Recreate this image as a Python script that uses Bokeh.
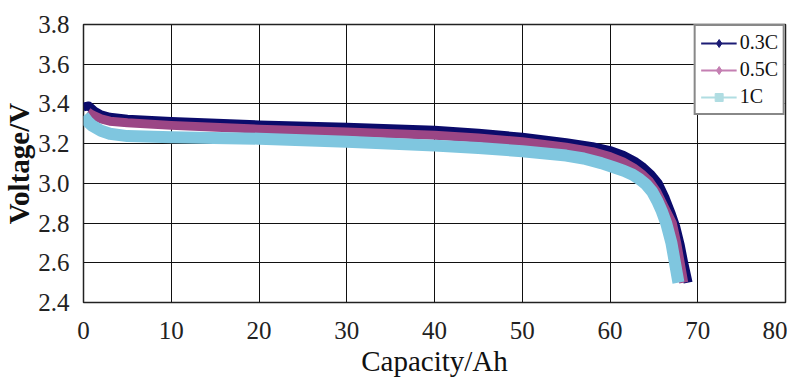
from bokeh.plotting import figure
from bokeh.models import (ColumnDataSource, Legend, LegendItem, FixedTicker,
                          PrintfTickFormatter, Range1d)
from bokeh.embed import file_html
from bokeh.resources import INLINE

# ---- data ----
series_labels = ["0.3C", "0.5C", "1C"]

cap_03 = [0, 0.6, 1.2, 2.0, 3.0, 5, 10, 20, 30, 40, 45, 50, 55, 58, 60, 61.5,
          62.8, 63.8, 64.7, 65.5, 66.3, 67.0, 67.5, 68.0, 68.4, 68.9]
volt_03 = [3.385, 3.39, 3.365, 3.345, 3.333, 3.323, 3.312, 3.294, 3.282, 3.268,
           3.253, 3.232, 3.205, 3.185, 3.165, 3.142, 3.112, 3.08, 3.043, 3.0,
           2.925, 2.845, 2.78, 2.69, 2.60, 2.50]

cap_05 = [0.5, 1.0, 2.0, 3.0, 5, 10, 20, 30, 40, 45, 50, 55, 58, 60, 61.5,
          62.7, 63.6, 64.5, 65.3, 66.2, 67.1, 67.6, 68.0, 68.4]
volt_05 = [3.36, 3.345, 3.325, 3.313, 3.305, 3.292, 3.273, 3.259, 3.242, 3.228,
           3.21, 3.182, 3.16, 3.135, 3.108, 3.078, 3.048, 3.01, 2.96, 2.88,
           2.80, 2.70, 2.60, 2.50]

cap_1c = [0, 0.5, 1.0, 2.0, 3.0, 5, 10, 20, 30, 40, 45, 50, 55, 57, 59, 60.5,
          61.6, 62.6, 63.4, 64.1, 64.8, 65.4, 65.9, 66.4, 67.0, 67.4, 67.8]
volt_1c = [3.34, 3.31, 3.29, 3.265, 3.25, 3.238, 3.232, 3.225, 3.21, 3.19,
           3.178, 3.162, 3.14, 3.125, 3.102, 3.08, 3.063, 3.043, 3.02, 2.995,
           2.958, 2.91, 2.86, 2.80, 2.70, 2.60, 2.50]

x_ticks = [0, 10, 20, 30, 40, 50, 60, 70, 80]
y_ticks = [2.4, 2.6, 2.8, 3.0, 3.2, 3.4, 3.6, 3.8]
x_min, x_max = 0, 80
y_min, y_max = 2.4, 3.8

FONT = "Liberation Serif"

p = figure(width=787, height=381, output_backend="svg", toolbar_location=None,
           x_range=Range1d(x_min, x_max), y_range=Range1d(y_min, y_max),
           min_border_left=83, min_border_right=2, min_border_top=24,
           min_border_bottom=79)
p.background_fill_color = "white"
p.border_fill_color = "white"
p.outline_line_color = "#222222"
p.outline_line_width = 1.5

# axes
p.xaxis.ticker = FixedTicker(ticks=x_ticks)
p.yaxis.ticker = FixedTicker(ticks=y_ticks)
p.yaxis.formatter = PrintfTickFormatter(format="%.1f")
for ax in (p.xaxis[0], p.yaxis[0]):
    ax.axis_line_color = None
    ax.major_tick_line_color = None
    ax.minor_tick_line_color = None
    ax.major_label_text_font = FONT
    ax.major_label_text_font_size = "25px"
    ax.major_label_text_color = "#222222"
    ax.axis_label_text_font = FONT
    ax.axis_label_text_color = "#111111"
    ax.axis_label_text_font_style = "normal"
p.xaxis.axis_label = "Capacity/Ah"
p.yaxis.axis_label = "Voltage/V"
p.xaxis.axis_label_text_font_size = "29px"
p.yaxis.axis_label_text_font_style = "bold"
p.yaxis.axis_label_text_font_size = "29px"
p.xaxis.major_label_standoff = 13
p.yaxis.major_label_standoff = 8
p.xaxis.axis_label_standoff = 3
p.yaxis.axis_label_standoff = 0

# grid
p.xgrid.ticker = FixedTicker(ticks=x_ticks)
p.ygrid.ticker = FixedTicker(ticks=y_ticks)
for g in (p.xgrid[0], p.ygrid[0]):
    g.grid_line_color = "#111111"
    g.grid_line_width = 1
    g.grid_line_alpha = 1.0

# curves (thick bands)
p.line(cap_03, volt_03, line_color="#0b0b6b", line_width=9,
       line_join="round", line_cap="butt")
p.line(cap_05, volt_05, line_color="#9b4685", line_width=9,
       line_join="round", line_cap="butt")
p.line(cap_1c, volt_1c, line_color="#7fc6df", line_width=12,
       line_join="round", line_cap="butt")

# legend-only glyphs (a single point placed outside the visible range)
def proxy():
    return ColumnDataSource(data=dict(x=[x_min - 10], y=[y_min - 1]))

l1 = p.line("x", "y", source=proxy(), line_color="#1c1c75", line_width=2)
m1 = p.scatter("x", "y", source=proxy(), marker="diamond", size=11,
               fill_color="#1c1c75", line_color="#1c1c75")
l2 = p.line("x", "y", source=proxy(), line_color="#c47fb2", line_width=2)
m2 = p.scatter("x", "y", source=proxy(), marker="diamond", size=11,
               fill_color="#c47fb2", line_color="#c47fb2")
l3 = p.line("x", "y", source=proxy(), line_color="#b0dde2", line_width=2)
m3 = p.scatter("x", "y", source=proxy(), marker="square", size=10,
               fill_color="#b0dde2", line_color="#b0dde2")

legend = Legend(items=[
    LegendItem(label=series_labels[0], renderers=[l1, m1]),
    LegendItem(label=series_labels[1], renderers=[l2, m2]),
    LegendItem(label=series_labels[2], renderers=[l3, m3]),
], location="top_right")
legend.margin = 0
legend.padding = 5
legend.spacing = 4
legend.glyph_width = 36
legend.glyph_height = 20
legend.label_standoff = 3
legend.label_text_font = FONT
legend.label_text_font_size = "20px"
legend.label_text_color = "#111111"
legend.border_line_color = "#111111"
legend.border_line_width = 2.5
legend.background_fill_color = "white"
legend.background_fill_alpha = 1.0
p.add_layout(legend, "center")

open("out.html", "w").write(file_html(p, INLINE))
